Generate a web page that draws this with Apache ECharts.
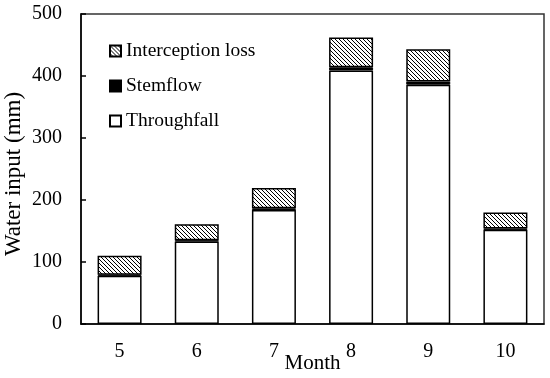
<!DOCTYPE html>
<html><head><meta charset="utf-8">
<script src="https://cdn.jsdelivr.net/npm/echarts@6/dist/echarts.min.js"></script>
<style>html,body{margin:0;padding:0;background:#fff}#c{width:550px;height:378px}</style>
</head><body><div id="c"></div>
<script>
var months = ['5','6','7','8','9','10'];
var throughfall = [78, 133, 184, 409, 386, 152];
var stemflow = [1.5, 2, 2.5, 5, 5, 2];
var interception = [30.5, 26, 33, 48, 52, 26];
var yTicks = [0, 100, 200, 300, 400, 500];

function hatch() {
  var s = 4, c = document.createElement('canvas');
  c.width = s; c.height = s;
  var g = c.getContext('2d');
  g.fillStyle = '#fff'; g.fillRect(0,0,s,s);
  g.strokeStyle = '#000'; g.lineWidth = 1;
  g.beginPath();
  g.moveTo(-1,-1); g.lineTo(s+1,s+1);
  g.moveTo(-1,s-1); g.lineTo(1,s+1);
  g.moveTo(s-1,-1); g.lineTo(s+1,1);
  g.stroke();
  return c;
}
var font = 'Liberation Serif';
var chart = echarts.init(document.getElementById('c'));
chart.setOption({
  animation: false,
  textStyle: {fontFamily: font},
  grid: {left: 81, right: 6, top: 14, bottom: 54, outerBoundsMode: 'none', containLabel: false,
         show: true, borderColor: '#333', borderWidth: 1.5, backgroundColor: 'transparent'},
  legend: {
    orient: 'vertical', left: 109, top: 41, padding: 0, itemWidth: 11, itemHeight: 11, itemGap: 15, icon: 'rect',
    textStyle: {fontFamily: font, fontSize: 19.5, lineHeight: 20, color: '#000'},
    data: ['Interception loss', 'Stemflow', 'Throughfall']
  },
  xAxis: {
    type: 'category', data: months, name: 'Month', nameLocation: 'middle', nameGap: 29, nameMoveOverlap: false,
    nameTextStyle: {fontFamily: font, fontSize: 21, color: '#000'},
    axisLine: {lineStyle: {color: '#000', width: 1.5}},
    axisTick: {show: false},
    axisLabel: {fontFamily: font, fontSize: 20, color: '#000', margin: 18}
  },
  yAxis: {
    type: 'value', min: yTicks[0], max: yTicks[yTicks.length-1], interval: 100,
    name: 'Water input (mm)', nameLocation: 'middle', nameGap: 56, nameMoveOverlap: false,
    nameTextStyle: {fontFamily: font, fontSize: 23, color: '#000', padding: [0, 10, 0, 0]},
    axisLine: {show: true, lineStyle: {color: '#000', width: 1.5}},
    axisTick: {show: true, inside: true, length: 5, lineStyle: {color: '#000', width: 1.5}},
    splitLine: {show: false},
    axisLabel: {fontFamily: font, fontSize: 20, color: '#000', margin: 19}
  },
  series: [
    {name: 'Throughfall', type: 'bar', stack: 'a', data: throughfall, barWidth: 44,
     itemStyle: {color: '#fff', borderColor: '#000', borderWidth: 1.5}},
    {name: 'Stemflow', type: 'bar', stack: 'a', data: stemflow, barWidth: 44,
     itemStyle: {color: '#000', borderColor: '#000', borderWidth: 1}},
    {name: 'Interception loss', type: 'bar', stack: 'a', data: interception, barWidth: 44,
     itemStyle: {color: {image: hatch(), repeat: 'repeat'}, borderColor: '#000', borderWidth: 1.5}}
  ]
});
</script></body></html>
